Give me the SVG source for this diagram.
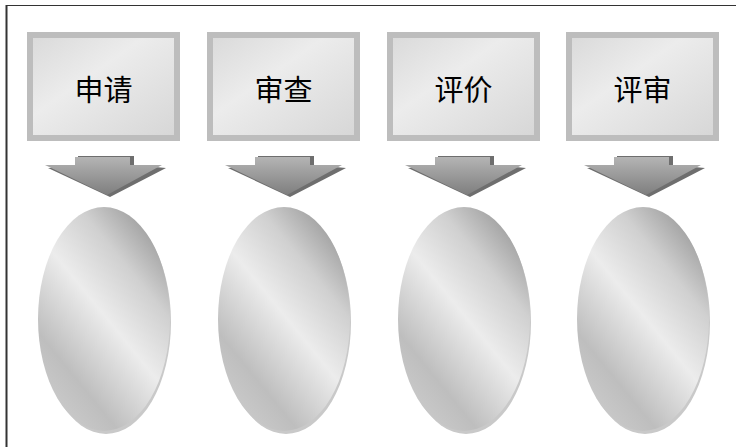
<svg xmlns="http://www.w3.org/2000/svg" width="736" height="447" viewBox="0 0 736 447">
<defs>
<linearGradient id="boxg" x1="0" y1="0" x2="1" y2="1">
<stop offset="0" stop-color="#d9d9d9"/>
<stop offset="0.4" stop-color="#ececec"/>
<stop offset="1" stop-color="#d6d6d6"/>
</linearGradient>
<linearGradient id="arrg" x1="0" y1="0" x2="0" y2="1">
<stop offset="0" stop-color="#b4b4b4"/>
<stop offset="1" stop-color="#7e7e7e"/>
</linearGradient>
<linearGradient id="ellg" x1="0.85" y1="0.05" x2="0.2" y2="0.95">
<stop offset="0" stop-color="#999999"/>
<stop offset="0.25" stop-color="#d0d0d0"/>
<stop offset="0.5" stop-color="#ececec"/>
<stop offset="0.82" stop-color="#bebebe"/>
<stop offset="1" stop-color="#cacaca"/>
</linearGradient>
<g id="arrow">
<polygon points="51,156 107,156 107,165 139,168 83,197 21,168 51,168" fill="#6e6e6e"/>
<polygon points="48,157 103,157 103,165 135,165 80,195 18,165 48,165" fill="url(#arrg)"/>
</g>
</defs>
<style>
.box{fill:url(#boxg);stroke:#bdbdbd;stroke-width:6}
.lbl{font-family:"Noto Sans CJK SC","Noto Sans CJK JP",sans-serif;font-size:29px;fill:#000;text-anchor:middle;dominant-baseline:central}
.sh{fill:#c9c9c9}
.ell{fill:url(#ellg)}
.frame{stroke:#333;fill:none}
</style>
<g id="frame">
<line class="frame" x1="6.5" y1="5" x2="6.5" y2="447" stroke-width="2"/>
<line class="frame" x1="6" y1="5.5" x2="736" y2="5.5" stroke-width="1.2"/>
</g>
<g id="node-shenqing">
<rect class="box" x="30" y="35" width="147" height="103"/>
<text class="lbl" x="103.5" y="88">申请</text>
</g>
<g id="node-shencha">
<rect class="box" x="210" y="35" width="147" height="103"/>
<text class="lbl" x="283.5" y="88">审查</text>
</g>
<g id="node-pingjia">
<rect class="box" x="390" y="35" width="147" height="103"/>
<text class="lbl" x="463.5" y="88">评价</text>
</g>
<g id="node-pingshen">
<rect class="box" x="569" y="35" width="147" height="103"/>
<text class="lbl" x="642.5" y="88">评审</text>
</g>
<g id="connectors">
<use href="#arrow" x="27" y="0"/>
<use href="#arrow" x="207" y="0"/>
<use href="#arrow" x="387" y="0"/>
<use href="#arrow" x="566" y="0"/>
</g>
<g id="oval-1">
<ellipse class="sh" cx="106" cy="322" rx="65" ry="112"/>
<ellipse class="ell" cx="104" cy="319" rx="66" ry="112"/>
</g>
<g id="oval-2">
<ellipse class="sh" cx="286" cy="322" rx="65" ry="112"/>
<ellipse class="ell" cx="284" cy="319" rx="66" ry="112"/>
</g>
<g id="oval-3">
<ellipse class="sh" cx="466" cy="322" rx="65" ry="112"/>
<ellipse class="ell" cx="464" cy="319" rx="66" ry="112"/>
</g>
<g id="oval-4">
<ellipse class="sh" cx="645" cy="322" rx="65" ry="112"/>
<ellipse class="ell" cx="643" cy="319" rx="66" ry="112"/>
</g>
</svg>
